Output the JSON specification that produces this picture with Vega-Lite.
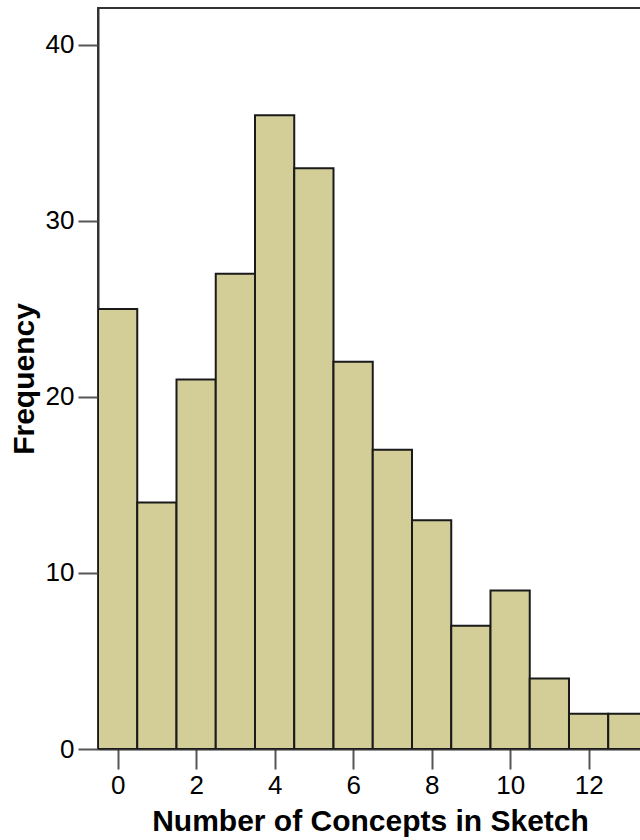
{
  "$schema": "https://vega.github.io/schema/vega-lite/v6.json",
  "autosize": "none",
  "padding": {"left": 98, "top": 8, "right": 0, "bottom": 91},
  "width": 544,
  "height": 741,
  "background": "white",
  "config": {
    "view": {"stroke": "#333333", "strokeWidth": 2},
    "font": "Liberation Sans",
    "axis": {
      "grid": false,
      "domainColor": "#333333",
      "domainWidth": 2,
      "tickColor": "#555555",
      "tickWidth": 2,
      "tickSize": 20,
      "labelFont": "Liberation Sans",
      "labelFontSize": 26,
      "labelColor": "#000000",
      "titleFont": "Liberation Sans",
      "titleFontSize": 30,
      "titleFontWeight": "bold",
      "titleColor": "#000000"
    }
  },
  "data": {
    "values": [
      {"bin_start": -0.5, "bin_end": 0.5, "frequency": 25},
      {"bin_start": 0.5, "bin_end": 1.5, "frequency": 14},
      {"bin_start": 1.5, "bin_end": 2.5, "frequency": 21},
      {"bin_start": 2.5, "bin_end": 3.5, "frequency": 27},
      {"bin_start": 3.5, "bin_end": 4.5, "frequency": 36},
      {"bin_start": 4.5, "bin_end": 5.5, "frequency": 33},
      {"bin_start": 5.5, "bin_end": 6.5, "frequency": 22},
      {"bin_start": 6.5, "bin_end": 7.5, "frequency": 17},
      {"bin_start": 7.5, "bin_end": 8.5, "frequency": 13},
      {"bin_start": 8.5, "bin_end": 9.5, "frequency": 7},
      {"bin_start": 9.5, "bin_end": 10.5, "frequency": 9},
      {"bin_start": 10.5, "bin_end": 11.5, "frequency": 4},
      {"bin_start": 11.5, "bin_end": 12.5, "frequency": 2},
      {"bin_start": 12.5, "bin_end": 13.5, "frequency": 2}
    ]
  },
  "mark": {"type": "rect", "fill": "#D3CE98", "stroke": "#1a1a1a", "strokeWidth": 2, "clip": true},
  "encoding": {
    "x": {
      "field": "bin_start",
      "type": "quantitative",
      "scale": {"domain": [-0.5, 13.36], "nice": false, "zero": false},
      "axis": {"title": "Number of Concepts in Sketch", "values": [0, 2, 4, 6, 8, 10, 12], "labelPadding": 3, "titlePadding": 8}
    },
    "x2": {"field": "bin_end"},
    "y": {
      "field": "frequency",
      "type": "quantitative",
      "scale": {"domain": [0, 42.1], "nice": false},
      "axis": {"title": "Frequency", "values": [0, 10, 20, 30, 40], "labelPadding": 4, "titlePadding": 6}
    },
    "y2": {"datum": 0}
  }
}
